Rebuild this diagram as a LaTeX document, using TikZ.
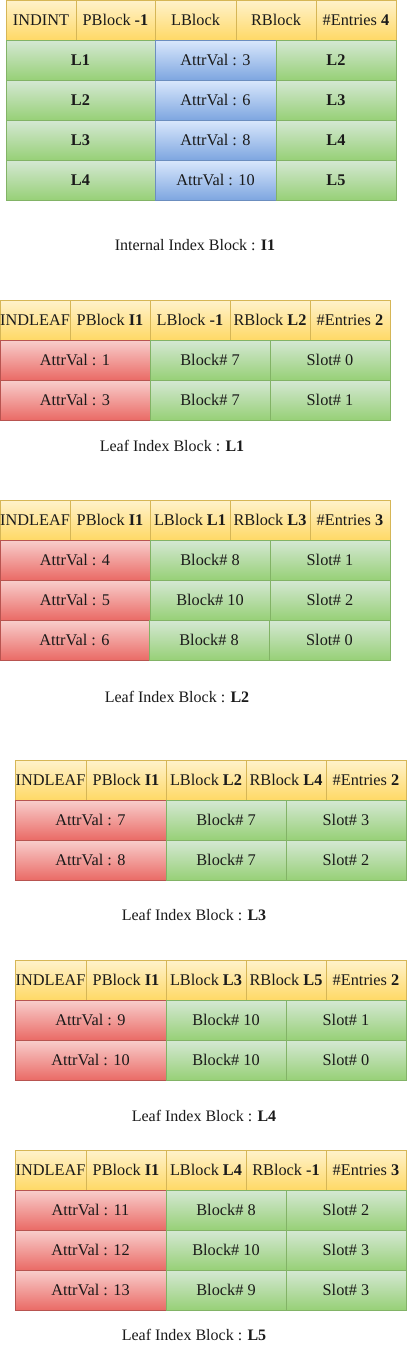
\documentclass[tikz,border=0pt]{standalone}
\usepackage{fontspec}
\setmainfont{Liberation Serif}
\definecolor{yelT}{HTML}{FFF2CC}\definecolor{yelB}{HTML}{FFD966}\definecolor{yelD}{HTML}{D6B656}
\definecolor{grnT}{HTML}{D5E8D4}\definecolor{grnB}{HTML}{97D077}\definecolor{grnD}{HTML}{82B366}
\definecolor{bluT}{HTML}{DAE8FC}\definecolor{bluB}{HTML}{7EA6E0}\definecolor{bluD}{HTML}{6C8EBF}
\definecolor{redT}{HTML}{F8CECC}\definecolor{redB}{HTML}{EA6B66}\definecolor{redD}{HTML}{B85450}
\definecolor{txt}{HTML}{1A1A1A}
\tikzset{
  cellbase/.style={inner sep=0pt, line width=0.8pt, text=txt, font=\fontsize{16.3}{19}\selectfont},
  yel/.style={cellbase, draw=yelD, top color=yelT, bottom color=yelB},
  grn/.style={cellbase, draw=grnD, top color=grnT, bottom color=grnB},
  blu/.style={cellbase, draw=bluD, top color=bluT, bottom color=bluB},
  red/.style={cellbase, draw=redD, top color=redT, bottom color=redB},
  caption/.style={inner sep=0pt, text=txt, font=\fontsize{16}{19}\selectfont}
}
% \cell{name}{x1}{y1}{x2}{y2}{style}{text}
\newcommand\cell[7]{%
  \node[#6, minimum width={(#4-#2)*1pt}, minimum height={(#5-#3)*1pt}]
    (#1) at ({(#2+#4)/2},{(#3+#5)/2}) {#7};}
\begin{document}
\begin{tikzpicture}[x=1pt,y=-1pt]
\useasboundingbox[fill=white] (0,0) rectangle (407,1352);

% ---------- Internal block I1 ----------
\cell{Ia}{6}{0}{76}{40}{yel}{INDINT}
\cell{Ib}{76}{0}{155}{40}{yel}{PBlock \textbf{-1}}
\cell{Ic}{155}{0}{236}{40}{yel}{LBlock}
\cell{Id}{236}{0}{316}{40}{yel}{RBlock}
\cell{Ie}{316}{0}{396}{40}{yel}{\#Entries \textbf{4}}
\cell{Ir1a}{6}{40}{155}{80}{grn}{\textbf{L1}}
\cell{Ir1b}{155}{40}{276}{80}{blu}{AttrVal : 3}
\cell{Ir1c}{276}{40}{396}{80}{grn}{\textbf{L2}}
\cell{Ir2a}{6}{80}{155}{120}{grn}{\textbf{L2}}
\cell{Ir2b}{155}{80}{276}{120}{blu}{AttrVal : 6}
\cell{Ir2c}{276}{80}{396}{120}{grn}{\textbf{L3}}
\cell{Ir3a}{6}{120}{155}{160}{grn}{\textbf{L3}}
\cell{Ir3b}{155}{120}{276}{160}{blu}{AttrVal : 8}
\cell{Ir3c}{276}{120}{396}{160}{grn}{\textbf{L4}}
\cell{Ir4a}{6}{160}{155}{200}{grn}{\textbf{L4}}
\cell{Ir4b}{155}{160}{276}{200}{blu}{AttrVal : 10}
\cell{Ir4c}{276}{160}{396}{200}{grn}{\textbf{L5}}
\node[caption] (capI1) at (195,245) {Internal Index Block : \textbf{I1}};

% ---------- Leaf L1 ----------
\cell{Aa}{0}{300}{70}{340}{yel}{INDLEAF}
\cell{Ab}{70}{300}{150}{340}{yel}{PBlock \textbf{I1}}
\cell{Ac}{150}{300}{230}{340}{yel}{LBlock \textbf{-1}}
\cell{Ad}{230}{300}{310}{340}{yel}{RBlock \textbf{L2}}
\cell{Ae}{310}{300}{390}{340}{yel}{\#Entries \textbf{2}}
\cell{Ar1a}{0}{340}{150}{380}{red}{AttrVal : 1}
\cell{Ar1b}{150}{340}{270}{380}{grn}{Block\# 7}
\cell{Ar1c}{270}{340}{390}{380}{grn}{Slot\# 0}
\cell{Ar2a}{0}{380}{150}{420}{red}{AttrVal : 3}
\cell{Ar2b}{150}{380}{270}{420}{grn}{Block\# 7}
\cell{Ar2c}{270}{380}{390}{420}{grn}{Slot\# 1}
\node[caption] (capL1) at (172,446) {Leaf Index Block : \textbf{L1}};

% ---------- Leaf L2 ----------
\cell{Ba}{0}{500}{70}{540}{yel}{INDLEAF}
\cell{Bb}{70}{500}{150}{540}{yel}{PBlock \textbf{I1}}
\cell{Bc}{150}{500}{230}{540}{yel}{LBlock \textbf{L1}}
\cell{Bd}{230}{500}{310}{540}{yel}{RBlock \textbf{L3}}
\cell{Be}{310}{500}{390}{540}{yel}{\#Entries \textbf{3}}
\cell{Br1a}{0}{540}{150}{580}{red}{AttrVal : 4}
\cell{Br1b}{150}{540}{270}{580}{grn}{Block\# 8}
\cell{Br1c}{270}{540}{390}{580}{grn}{Slot\# 1}
\cell{Br2a}{0}{580}{150}{620}{red}{AttrVal : 5}
\cell{Br2b}{150}{580}{270}{620}{grn}{Block\# 10}
\cell{Br2c}{270}{580}{390}{620}{grn}{Slot\# 2}
\cell{Br3a}{0}{620}{149}{660}{red}{AttrVal : 6}
\cell{Br3b}{149}{620}{269}{660}{grn}{Block\# 8}
\cell{Br3c}{269}{620}{390}{660}{grn}{Slot\# 0}
\node[caption] (capL2) at (177,697) {Leaf Index Block : \textbf{L2}};

% ---------- Leaf L3 ----------
\cell{Ca}{15}{760}{86}{800}{yel}{INDLEAF}
\cell{Cb}{86}{760}{166}{800}{yel}{PBlock \textbf{I1}}
\cell{Cc}{166}{760}{246}{800}{yel}{LBlock \textbf{L2}}
\cell{Cd}{246}{760}{326}{800}{yel}{RBlock \textbf{L4}}
\cell{Ce}{326}{760}{406}{800}{yel}{\#Entries \textbf{2}}
\cell{Cr1a}{15}{800}{166}{840}{red}{AttrVal : 7}
\cell{Cr1b}{166}{800}{286}{840}{grn}{Block\# 7}
\cell{Cr1c}{286}{800}{406}{840}{grn}{Slot\# 3}
\cell{Cr2a}{15}{840}{166}{880}{red}{AttrVal : 8}
\cell{Cr2b}{166}{840}{286}{880}{grn}{Block\# 7}
\cell{Cr2c}{286}{840}{406}{880}{grn}{Slot\# 2}
\node[caption] (capL3) at (194,915) {Leaf Index Block : \textbf{L3}};

% ---------- Leaf L4 ----------
\cell{Da}{15}{960}{86}{1000}{yel}{INDLEAF}
\cell{Db}{86}{960}{166}{1000}{yel}{PBlock \textbf{I1}}
\cell{Dc}{166}{960}{246}{1000}{yel}{LBlock \textbf{L3}}
\cell{Dd}{246}{960}{326}{1000}{yel}{RBlock \textbf{L5}}
\cell{De}{326}{960}{406}{1000}{yel}{\#Entries \textbf{2}}
\cell{Dr1a}{15}{1000}{166}{1040}{red}{AttrVal : 9}
\cell{Dr1b}{166}{1000}{286}{1040}{grn}{Block\# 10}
\cell{Dr1c}{286}{1000}{406}{1040}{grn}{Slot\# 1}
\cell{Dr2a}{15}{1040}{166}{1080}{red}{AttrVal : 10}
\cell{Dr2b}{166}{1040}{286}{1080}{grn}{Block\# 10}
\cell{Dr2c}{286}{1040}{406}{1080}{grn}{Slot\# 0}
\node[caption] (capL4) at (204,1116) {Leaf Index Block : \textbf{L4}};

% ---------- Leaf L5 ----------
\cell{Ea}{15}{1150}{86}{1190}{yel}{INDLEAF}
\cell{Eb}{86}{1150}{166}{1190}{yel}{PBlock \textbf{I1}}
\cell{Ec}{166}{1150}{246}{1190}{yel}{LBlock \textbf{L4}}
\cell{Ed}{246}{1150}{326}{1190}{yel}{RBlock \textbf{-1}}
\cell{Ee}{326}{1150}{406}{1190}{yel}{\#Entries \textbf{3}}
\cell{Er1a}{15}{1190}{166}{1230}{red}{AttrVal : 11}
\cell{Er1b}{166}{1190}{286}{1230}{grn}{Block\# 8}
\cell{Er1c}{286}{1190}{406}{1230}{grn}{Slot\# 2}
\cell{Er2a}{15}{1230}{166}{1270}{red}{AttrVal : 12}
\cell{Er2b}{166}{1230}{286}{1270}{grn}{Block\# 10}
\cell{Er2c}{286}{1230}{406}{1270}{grn}{Slot\# 3}
\cell{Er3a}{15}{1270}{166}{1310}{red}{AttrVal : 13}
\cell{Er3b}{166}{1270}{286}{1310}{grn}{Block\# 9}
\cell{Er3c}{286}{1270}{406}{1310}{grn}{Slot\# 3}
\node[caption] (capL5) at (194,1335) {Leaf Index Block : \textbf{L5}};
\end{tikzpicture}
\end{document}
